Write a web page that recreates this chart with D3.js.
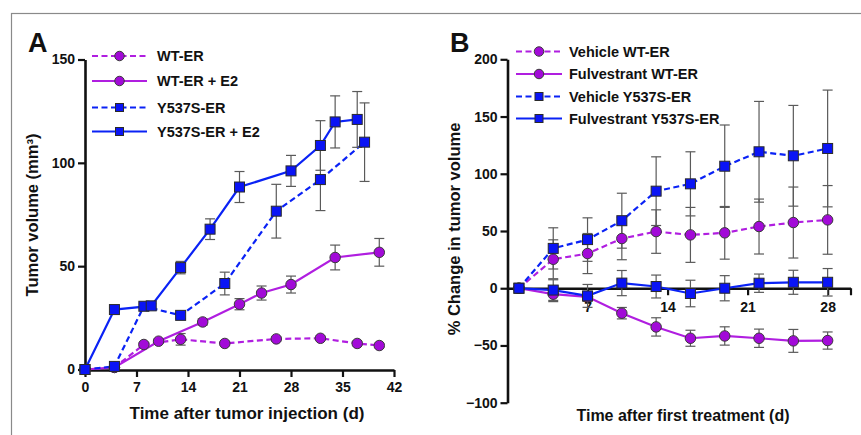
<!DOCTYPE html>
<html><head><meta charset="utf-8">
<script src="https://cdn.jsdelivr.net/npm/d3@7"></script>
<style>
body{margin:0;background:#fff}
text{font-family:Arial,"Liberation Sans",Helvetica,sans-serif;font-weight:bold;fill:#111}
</style>
</head><body>
<svg id="c" width="861" height="435"></svg>
<script>
// ---------- Panel A data ----------
const aTicksX = [0,7,14,21,28,35,42];
const aTicksY = [0,50,100,150];
const daysWT = [0,4,8,13,19,26,32,37,40];
const wtER = [0,1,12.1,14.6,12.6,14.8,15.1,12.6,11.6];
const wtERerr = [0,0.5,1,2.8,1,1,1,1,1];
const daysWTE2 = [0,4,10,16,21,24,28,34,40];
const wtERE2 = [0,1,13.7,23,31.6,37,41.1,54.2,56.7];
const wtERE2err = [0,0.5,1,1.5,2.7,3.4,4.1,6,6.7];
const daysY = [0,4,8,13,19,26,32,38];
const y537 = [0,1.5,30.6,26.2,41.6,76.6,91.9,110];
const y537err = [0,0.5,1,1.5,5.5,13,15,19];
const daysYE2 = [0,4,9,13,17,21,28,32,34,37];
const y537E2 = [0,29,30.8,49.3,67.9,88.3,96.1,108.4,119.8,121];
const y537E2err = [0,1,1,3,5,7.5,7.5,12,12.6,13.5];
const aLegend = ["WT-ER","WT-ER + E2","Y537S-ER","Y537S-ER + E2"];

// ---------- Panel B data ----------
const bTicksX = [7,14,21,28,30];
const bTicksY = [-100,-50,0,50,100,150,200];
const daysB = [1,4,7,10,13,16,19,22,25,28];
const vehWT = [0,25.3,30.3,43.4,49.5,46.6,48.4,53.9,57.4,59.7];
const vehWTerr = [0,17,17.5,18.5,19,24,23,24,31,30];
const fulWT = [0,-5.2,-7.5,-21.8,-33.8,-43.7,-41.7,-43.7,-46,-45.7];
const fulWTerr = [0,6.5,4,5,8,7,8,8,10,7.5];
const vehY = [0,34.8,42.5,59,84.8,91.2,106.6,119.2,115.7,122.1];
const vehYerr = [0,18,19,24,30,28,36,44,44,51];
const fulY = [0,-1.6,-6.7,4.5,1.5,-4.6,0,4.4,5.2,5.2];
const fulYerr = [0,9,10,11,10,11.6,11,8,10.5,12];
const bLegend = ["Vehicle WT-ER","Fulvestrant WT-ER","Vehicle Y537S-ER","Fulvestrant Y537S-ER"];

const PURPLE = "#A20AD8", PURPLE_LINE = "#B01EE0";
const BLUE = "#0A14F5", BLUE_LINE = "#0A22F5";
const DASH = "6,3.5";

const svg = d3.select("#c");

// frame
svg.append("rect").attr("x",11.5).attr("y",13.5).attr("width",900).attr("height",500)
  .attr("fill","none").attr("stroke","#8a8a8a").attr("stroke-width",1.2);

function styleAxis(g, fs){
  g.selectAll("path.domain").attr("stroke","#111").attr("stroke-width",2.6);
  g.selectAll(".tick line").attr("stroke","#111").attr("stroke-width",2.2);
  g.selectAll(".tick text").attr("font-size",fs).attr("fill","#111")
    .style("font-family","Arial, 'Liberation Sans', sans-serif").style("font-weight","bold");
}

function drawSeries(g, x, y, days, vals, errs, color, lineColor, dashed, shape, size){
  const pts = days.map((d,i)=>({d, v:vals[i], e:errs[i]}));
  const eb = g.append("g").attr("stroke","#5a5a5a").attr("stroke-width",1.2);
  pts.forEach(p=>{
    if(p.e<=0) return;
    const cx = x(p.d), y1 = y(p.v+p.e), y2 = y(p.v-p.e);
    eb.append("line").attr("x1",cx).attr("x2",cx).attr("y1",y1).attr("y2",y2);
    eb.append("line").attr("x1",cx-5).attr("x2",cx+5).attr("y1",y1).attr("y2",y1);
    eb.append("line").attr("x1",cx-5).attr("x2",cx+5).attr("y1",y2).attr("y2",y2);
  });
  g.append("path").datum(pts)
    .attr("d", d3.line().x(p=>x(p.d)).y(p=>y(p.v)))
    .attr("fill","none").attr("stroke",lineColor).attr("stroke-width",2.2)
    .attr("stroke-dasharray", dashed?DASH:null);
  return pts;
}
function drawMarkers(g, x, y, pts, color, shape, size){
  pts.forEach(p=>{
    marker(g, x(p.d), y(p.v), color, shape, size);
  });
}
function marker(g, cx, cy, color, shape, size){
  if(shape==="circle"){
    g.append("circle").attr("cx",cx).attr("cy",cy).attr("r",size/2)
      .attr("fill",color).attr("stroke","#3a3a3a").attr("stroke-width",1);
  } else {
    g.append("rect").attr("x",cx-size/2).attr("y",cy-size/2).attr("width",size).attr("height",size)
      .attr("fill",color).attr("stroke","#2a2a2a").attr("stroke-width",1);
  }
}
function legend(g, x1, x2, xt, ys, labels, specs){
  labels.forEach((lab,i)=>{
    const s = specs[i], yy = ys[i];
    g.append("line").attr("x1",x1).attr("x2",x2).attr("y1",yy).attr("y2",yy)
      .attr("stroke",s.line).attr("stroke-width",2.2).attr("stroke-dasharray",s.dash?DASH:null);
    marker(g,(x1+x2)/2,yy,s.color,s.shape,s.shape==="circle"?9.5:8);
    g.append("text").attr("x",xt).attr("y",yy+5).attr("font-size",14.5).text(lab);
  });
}

// ================= Panel A =================
{
  const x = d3.scaleLinear().domain([0,42]).range([85,394]);
  const y = d3.scaleLinear().domain([0,150]).range([369.5,59.5]);
  const g = svg.append("g");
  const gx = g.append("g").attr("transform","translate(0,370)")
    .call(d3.axisBottom(x).tickValues(aTicksX).tickSize(7).tickSizeOuter(0).tickPadding(5));
  styleAxis(gx,14);
  const gy = g.append("g").attr("transform","translate(85,0)")
    .call(d3.axisLeft(y).tickValues(aTicksY).tickSize(7).tickSizeOuter(0).tickPadding(3));
  styleAxis(gy,14);

  g.append("text").attr("x",28).attr("y",52).attr("font-size",27).text("A");
  g.append("text").attr("x",247).attr("y",419).attr("font-size",17).attr("text-anchor","middle")
    .text("Time after tumor injection (d)");
  g.append("text").attr("transform","translate(38,215) rotate(-90)").attr("font-size",16.5)
    .attr("text-anchor","middle").text("Tumor volume (mm³)");

  const s1 = drawSeries(g,x,y,daysWT,wtER,wtERerr,PURPLE,PURPLE_LINE,true);
  const s2 = drawSeries(g,x,y,daysWTE2,wtERE2,wtERE2err,PURPLE,PURPLE_LINE,false);
  const s3 = drawSeries(g,x,y,daysY,y537,y537err,BLUE,BLUE_LINE,true);
  const s4 = drawSeries(g,x,y,daysYE2,y537E2,y537E2err,BLUE,BLUE_LINE,false);
  drawMarkers(g,x,y,s1,PURPLE,"circle",10.5);
  drawMarkers(g,x,y,s2,PURPLE,"circle",10.5);
  drawMarkers(g,x,y,s3,BLUE,"square",10);
  drawMarkers(g,x,y,s4,BLUE,"square",10);

  legend(g,92,147,157,[56,81,107.5,131.5],aLegend,[
    {line:PURPLE_LINE,color:PURPLE,shape:"circle",dash:true},
    {line:PURPLE_LINE,color:PURPLE,shape:"circle",dash:false},
    {line:BLUE_LINE,color:BLUE,shape:"square",dash:true},
    {line:BLUE_LINE,color:BLUE,shape:"square",dash:false}]);
}

// ================= Panel B =================
{
  const x = d3.scaleLinear().domain([0,30]).range([507.5,850.5]);
  const y = d3.scaleLinear().domain([-100,200]).range([402.7,59.3]);
  const g = svg.append("g");
  const gx = g.append("g").attr("transform",`translate(0,${y(0)})`)
    .call(d3.axisBottom(x).tickValues(bTicksX).tickSize(7).tickSizeOuter(0).tickPadding(7)
      .tickFormat(d=> d===30 ? "" : d));
  styleAxis(gx,14);
  const gy = g.append("g").attr("transform","translate(507.5,0)")
    .call(d3.axisLeft(y).tickValues(bTicksY).tickSize(7).tickSizeOuter(0).tickPadding(3));
  styleAxis(gy,14);

  g.append("text").attr("x",450).attr("y",52).attr("font-size",27).text("B");
  g.append("text").attr("x",683).attr("y",421).attr("font-size",16).attr("text-anchor","middle")
    .text("Time after first treatment (d)");
  g.append("text").attr("transform","translate(460,229) rotate(-90)").attr("font-size",16.5)
    .attr("text-anchor","middle").text("% Change in tumor volume");

  const s1 = drawSeries(g,x,y,daysB,vehWT,vehWTerr,PURPLE,PURPLE_LINE,true);
  const s2 = drawSeries(g,x,y,daysB,fulWT,fulWTerr,PURPLE,PURPLE_LINE,false);
  const s3 = drawSeries(g,x,y,daysB,vehY,vehYerr,BLUE,BLUE_LINE,true);
  const s4 = drawSeries(g,x,y,daysB,fulY,fulYerr,BLUE,BLUE_LINE,false);
  drawMarkers(g,x,y,s1,PURPLE,"circle",10.5);
  drawMarkers(g,x,y,s2,PURPLE,"circle",10.5);
  drawMarkers(g,x,y,s3,BLUE,"square",10);
  drawMarkers(g,x,y,s4,BLUE,"square",10);

  legend(g,516,562,569,[51.5,74,96.5,118.5],bLegend,[
    {line:PURPLE_LINE,color:PURPLE,shape:"circle",dash:true},
    {line:PURPLE_LINE,color:PURPLE,shape:"circle",dash:false},
    {line:BLUE_LINE,color:BLUE,shape:"square",dash:true},
    {line:BLUE_LINE,color:BLUE,shape:"square",dash:false}]);
}
</script>
</body></html>
